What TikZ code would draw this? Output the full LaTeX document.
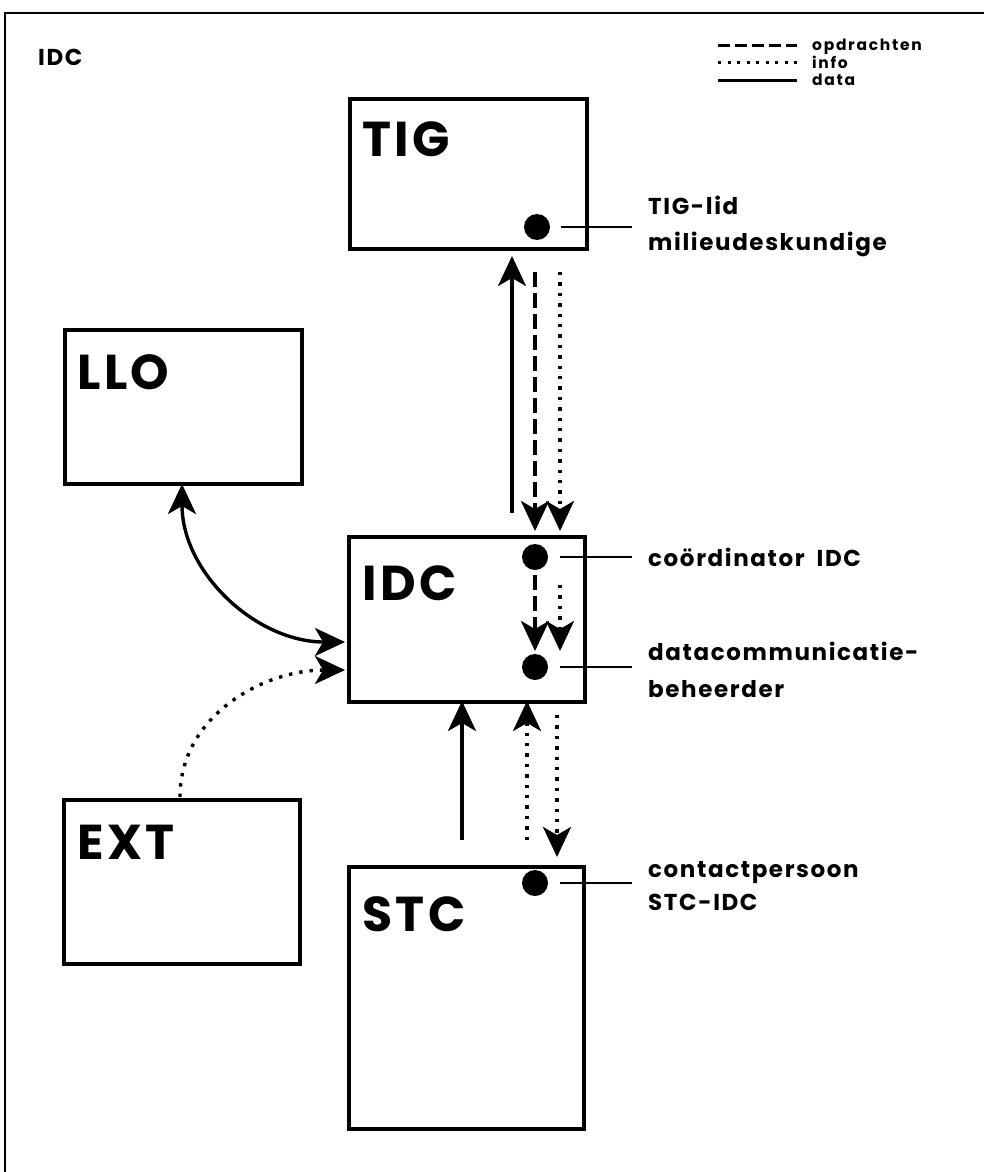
\documentclass[tikz,border=0pt]{standalone}
\usepackage{fontspec}
\setmainfont{Poppins}[BoldFont={Poppins Bold}]
\newfontfamily\labfont{Poppins Bold}[LetterSpace=7]
\newfontfamily\legfont{Poppins Bold}[LetterSpace=11]
\usetikzlibrary{arrows.meta}
\begin{document}
\begin{tikzpicture}[x=1pt,y=1pt,
  box/.style={draw,line width=3.6pt,minimum width=#1,minimum height=160pt,anchor=north west,inner sep=0pt},
  big/.style={anchor=base west,inner sep=0pt,font=\fontsize{49}{49}\selectfont\labfont},
  lab/.style={anchor=base west,inner sep=0pt,font=\fontsize{23}{23}\selectfont\labfont},
  leg/.style={anchor=base west,inner sep=0pt,font=\fontsize{15.5}{15.5}\selectfont\legfont},
  dot/.style={circle,fill=black,minimum size=26pt,inner sep=0pt},
  tick/.style={line width=2.4pt},
  tipS/.style={-{Stealth[length=30pt,width=28pt,inset=8pt]}},
  flow/.style={line width=3.4pt},
  dsh/.style={flow,dash pattern=on 15pt off 6pt},
  dtt/.style={flow,dash pattern=on 3.4pt off 7pt}]
\useasboundingbox (0,0) rectangle (984,-1172);
% frame
\draw[line width=2.4pt] (5,-1172) -- (5,-13) -- (984,-13);
\node[lab] (title) at (38,-66) {IDC};
% legend
\coordinate (l1a) at (718,-46); \coordinate (l1b) at (797,-46);
\coordinate (l2a) at (718,-63); \coordinate (l2b) at (797,-63);
\coordinate (l3a) at (718,-80); \coordinate (l3b) at (797,-80);
\draw[line width=3pt,dash pattern=on 12pt off 5pt] (l1a) -- (l1b);
\draw[line width=3pt,dash pattern=on 3pt off 6.5pt] (l2a) -- (l2b);
\draw[line width=3pt] (l3a) -- (l3b);
\node[leg] (lt1) at (812,-51) {opdrachten};
\node[leg] (lt2) at (812,-68) {info};
\node[leg] (lt3) at (812,-85) {data};
% boxes
\node[box=237pt,minimum height=150pt] (tig) at (348,-97) {};
\node[box=237pt,minimum height=154pt] (llo) at (63,-328) {};
\node[box=236pt,minimum height=165pt] (idc) at (347,-535) {};
\node[box=236pt,minimum height=164pt] (ext) at (62,-798) {};
\node[box=235pt,minimum height=262pt] (stc) at (347,-865) {};
\node[big] (tigT) at (362,-156) {TIG};
\node[big] (lloT) at (77,-389) {LLO};
\node[big] (idcT) at (362,-600) {IDC};
\node[big] (extT) at (77,-859) {EXT};
\node[big] (stcT) at (362,-931) {STC};
% persons
\node[dot] (p1) at (537,-227) {};
\node[dot] (p2) at (535,-557) {};
\node[dot] (p3) at (535,-667) {};
\node[dot] (p4) at (535,-883) {};
\coordinate (q1) at (632,-227);
\coordinate (q2) at (632,-557);
\coordinate (q3) at (632,-667);
\coordinate (q4) at (632,-883);
\draw[tick] (561,-227) -- (q1);
\draw[tick] (560,-557) -- (q2);
\draw[tick] (560,-667) -- (q3);
\draw[tick] (560,-883) -- (q4);
\node[lab] (t1a) at (648,-214) {TIG-lid};
\node[lab] (t1b) at (648,-250) {milieudeskundige};
\node[lab] (t2) at (648,-566) {coördinator\hspace{12pt}IDC};
\node[lab] (t3a) at (648,-660) {datacommunicatie-};
\node[lab] (t3b) at (648,-697) {beheerder};
\node[lab] (t4a) at (648,-877) {contactpersoon};
\node[lab] (t4b) at (648,-910) {STC-IDC};
% TIG <-> IDC
\coordinate (a1s) at (512,-513); \coordinate (a1e) at (512,-256);
\draw[flow,tipS] (a1s) -- (a1e);
\coordinate (a2s) at (535,-272); \coordinate (a2e) at (535,-531);
\draw[dsh,tipS] (a2s) -- (a2e);
\coordinate (a3s) at (560,-272); \coordinate (a3e) at (560,-531);
\draw[dtt,tipS] (a3s) -- (a3e);
% inside IDC
\coordinate (b1s) at (535,-575); \coordinate (b1e) at (535,-651);
\draw[dsh,tipS] (b1s) -- (b1e);
\coordinate (b2s) at (560,-585); \coordinate (b2e) at (560,-651);
\draw[dtt,tipS] (b2s) -- (b2e);
% STC <-> IDC
\coordinate (c1s) at (462,-840); \coordinate (c1e) at (462,-701);
\draw[flow,tipS] (c1s) -- (c1e);
\coordinate (c2s) at (527,-840); \coordinate (c2e) at (527,-701);
\draw[dtt,tipS] (c2s) -- (c2e);
\coordinate (c3s) at (557,-715); \coordinate (c3e) at (557,-857);
\draw[dtt,tipS] (c3s) -- (c3e);
% LLO <-> IDC
\coordinate (d1) at (182,-484); \coordinate (d2) at (345,-642);
\draw[flow,{Stealth[length=30pt,width=28pt,inset=8pt]}-{Stealth[length=30pt,width=28pt,inset=8pt]}] (d1) to[out=-90,in=180] (d2);
% EXT -> IDC
\coordinate (e1) at (180,-797); \coordinate (e2) at (345,-670);
\draw[dtt,tipS] (e1) to[out=90,in=180] (e2);
\end{tikzpicture}
\end{document}
